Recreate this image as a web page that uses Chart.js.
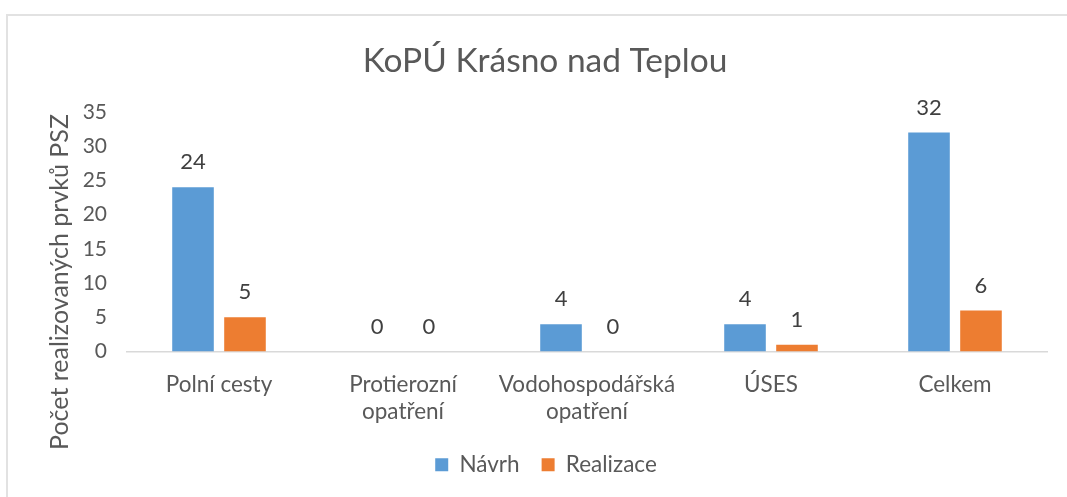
<!DOCTYPE html>
<html>
<head>
<meta charset="utf-8">
<script src="https://cdn.jsdelivr.net/npm/chart.js@4/dist/chart.umd.min.js"></script>
<style>
    html, body { margin: 0; padding: 0; background: #fff; }
    #wrap { position: relative; width: 1067px; height: 497px; }
    #frame { position: absolute; left: 6px; top: 14px; right: 0; bottom: 0;
             border-top: 2px solid #e2e2e2; border-left: 2px solid #e2e2e2; }
    canvas { position: absolute; left: 0; top: 0; }
</style>
</head>
<body>
<div id="wrap">
    <div id="frame"></div>
    <canvas id="chart" width="1067" height="497"></canvas>
</div>
<script>
const categories = ['Polní cesty', ['Protierozní', 'opatření'], ['Vodohospodářská', 'opatření'], 'ÚSES', 'Celkem'];
const navrh = [24, 0, 4, 4, 32];
const realizace = [5, 0, 0, 1, 6];
const yTicks = [0, 5, 10, 15, 20, 25, 30, 35];

const fontFamily = 'Lato, "Open Sans", sans-serif';
const textColor = '#595959';

// values above the bars, zeros included
const valueLabels = {
    id: 'valueLabels',
    afterDatasetsDraw(chart) {
        const ctx = chart.ctx;
        ctx.save();
        ctx.font = '22px ' + fontFamily;
        ctx.fillStyle = '#404040';
        ctx.textAlign = 'center';
        ctx.textBaseline = 'middle';
        chart.data.datasets.forEach((ds, i) => {
            chart.getDatasetMeta(i).data.forEach((bar, j) => {
                ctx.fillText(ds.data[j], bar.x, bar.y - 25);
            });
        });
        ctx.restore();
    }
};

// title and y axis title drawn by hand so they sit where the original has them
const extraText = {
    id: 'extraText',
    afterDraw(chart) {
        const ctx = chart.ctx;
        ctx.save();
        ctx.fillStyle = textColor;
        ctx.textAlign = 'center';
        ctx.textBaseline = 'middle';
        ctx.font = '33.5px ' + fontFamily;
        ctx.fillText('KoPÚ Krásno nad Teplou', 545, 61);
        ctx.translate(60, 282);
        ctx.rotate(-Math.PI / 2);
        ctx.font = '25px ' + fontFamily;
        ctx.fillText('Počet realizovaných prvků PSZ', 0, 0);
        ctx.restore();
    }
};

new Chart(document.getElementById('chart').getContext('2d'), {
    type: 'bar',
    data: {
        labels: categories,
        datasets: [
            { label: 'Návrh', data: navrh, backgroundColor: '#5b9bd5', categoryPercentage: 0.565, barPercentage: 0.8 },
            { label: 'Realizace', data: realizace, backgroundColor: '#ed7d31', categoryPercentage: 0.565, barPercentage: 0.8 }
        ]
    },
    options: {
        responsive: false,
        animation: false,
        layout: { padding: { left: 45, right: 20, top: 112, bottom: 11 } },
        plugins: {
            title: { display: false },
            legend: {
                position: 'bottom',
                labels: {
                    color: textColor,
                    font: { family: fontFamily, size: 22.5 },
                    boxWidth: 13,
                    boxHeight: 13,
                    padding: 22
                }
            },
            tooltip: { enabled: false }
        },
        scales: {
            x: {
                grid: { display: false, drawTicks: false },
                border: { color: '#d9d9d9', width: 1.5 },
                afterFit: (axis) => { axis.height = 80; },
                ticks: { color: textColor, font: { family: fontFamily, size: 22.5 }, padding: 20, maxRotation: 0, autoSkip: false }
            },
            y: {
                min: 0,
                max: 35,
                grid: { display: false, drawTicks: false },
                border: { display: false },
                afterBuildTicks: (axis) => { axis.ticks = yTicks.map(v => ({ value: v })); },
                afterFit: (axis) => { axis.width = 82; },
                ticks: { color: textColor, font: { family: fontFamily, size: 21 }, padding: 20 }
            }
        }
    },
    plugins: [valueLabels, extraText]
});
</script>
</body>
</html>
